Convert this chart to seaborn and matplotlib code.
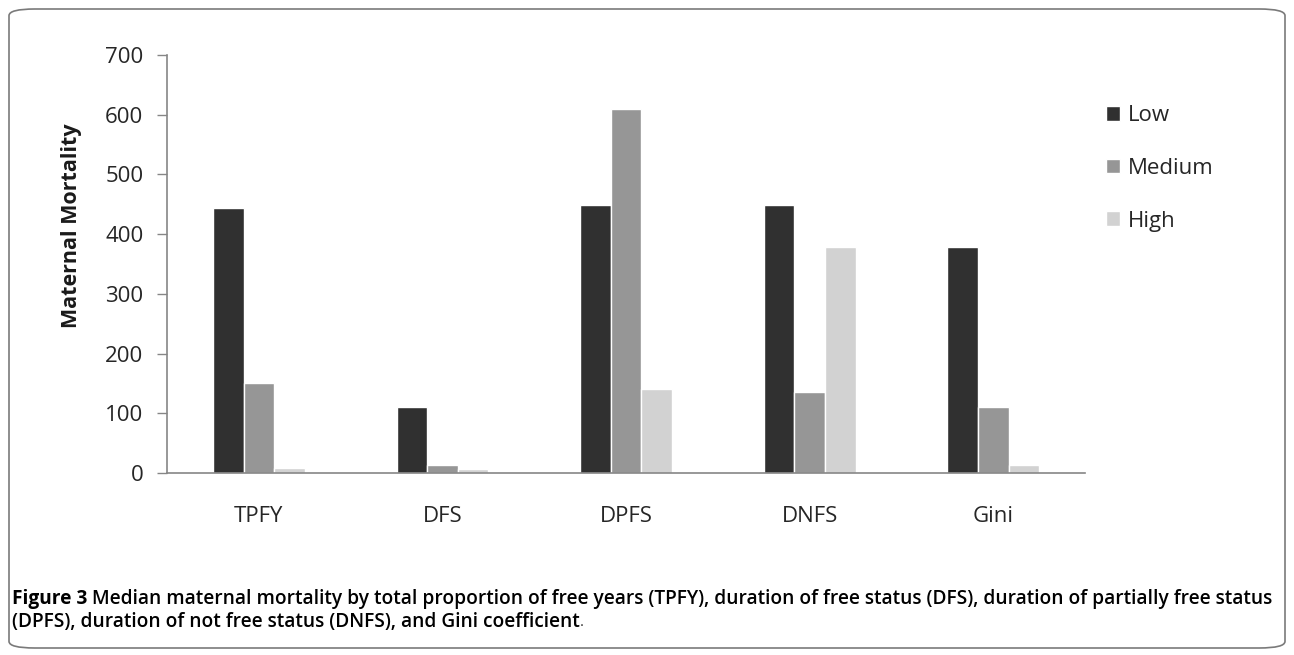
import matplotlib
matplotlib.use("Agg")
import matplotlib.pyplot as plt
from matplotlib.patches import FancyBboxPatch
import seaborn as sns
import pandas as pd

# values
categories = ["TPFY", "DFS", "DPFS", "DNFS", "Gini"]
levels = ["Low", "Medium", "High"]
low = [443, 111, 448, 448, 378]
medium = [150, 13, 609, 136, 111]
high = [9, 7, 140, 378, 14]
level_colors = ["#303030", "#969696", "#d2d2d2"]
yticks = [0, 100, 200, 300, 400, 500, 600, 700]
caption_bold = "Figure 3"
caption_rest = (" Median maternal mortality by total proportion of free years (TPFY), duration of free status (DFS), "
                "duration of partially free status")
caption_line2 = "(DPFS), duration of not free status (DNFS), and Gini coefficient"

rows = []
for lev, vals in zip(levels, [low, medium, high]):
    for cat, v in zip(categories, vals):
        rows.append({"category": cat, "level": lev, "value": v})
df = pd.DataFrame(rows)

sns.set_style("white")
plt.rcParams["font.family"] = ["Open Sans", "DejaVu Sans"]

fig = plt.figure(figsize=(12.94, 6.55), dpi=100)
ax = fig.add_axes([167 / 1294, 1 - 473 / 655, 918 / 1294, 418 / 655])

sns.barplot(data=df, x="category", y="value", hue="level", order=categories,
            hue_order=levels, palette=level_colors, saturation=1, width=0.5,
            ax=ax)

ax.set_xlim(-0.5, 4.5)
ax.set_ylim(0, 700)
ax.set_yticks(yticks)
ax.set_yticklabels([str(t) for t in yticks], fontsize=16, color="#262626")
ax.tick_params(axis="y", length=7, width=1, color="#868686", direction="out", pad=10, left=True)
ax.tick_params(axis="x", length=0, pad=24, labelsize=16, labelcolor="#262626")
ax.set_xlabel("")
ax.set_ylabel("Maternal Mortality", fontsize=15.5, fontweight="bold", color="#1a1a1a")
ax.yaxis.set_label_coords(-0.0926, 0.592)

for s in ["top", "right"]:
    ax.spines[s].set_visible(False)
for s in ["left", "bottom"]:
    ax.spines[s].set_color("#868686")
    ax.spines[s].set_linewidth(1.2)

handles, labels = ax.get_legend_handles_labels()
ax.legend(handles, labels, loc="upper left", bbox_to_anchor=(1106 / 1294, 1 - 105 / 655),
          bbox_transform=fig.transFigure, frameon=False, fontsize=16,
          handlelength=0.65, handleheight=0.65, handletextpad=0.35,
          labelspacing=1.43, borderpad=0, borderaxespad=0, labelcolor="#262626")

# caption
t1 = fig.text(12 / 1294, 1 - 599 / 655, caption_bold, fontsize=13.8, fontweight="bold",
              va="center", ha="left", color="black")
fig.canvas.draw()
bb = t1.get_window_extent()
fig.text(bb.x1 / 1294, 1 - 599 / 655, caption_rest, fontsize=13.8, fontweight="semibold",
         va="center", ha="left", color="black")
t3 = fig.text(12 / 1294, 1 - 622 / 655, caption_line2, fontsize=13.8, fontweight="semibold",
              va="center", ha="left", color="black")
fig.canvas.draw()
bb3 = t3.get_window_extent()
fig.text(bb3.x1 / 1294, 1 - 622 / 655, ".", fontsize=11, fontweight="normal",
         va="center", ha="left", color="#333333")

# rounded frame around the panel
frame = FancyBboxPatch((9 / 1294, 7 / 655), 1276 / 1294, 639 / 655,
                       boxstyle="round,pad=0,rounding_size=0.02",
                       transform=fig.transFigure, fill=False,
                       edgecolor="#7a7a7a", linewidth=1.2, mutation_aspect=655 / 1294)
fig.patches.append(frame)

fig.savefig("out.png", dpi=100)
